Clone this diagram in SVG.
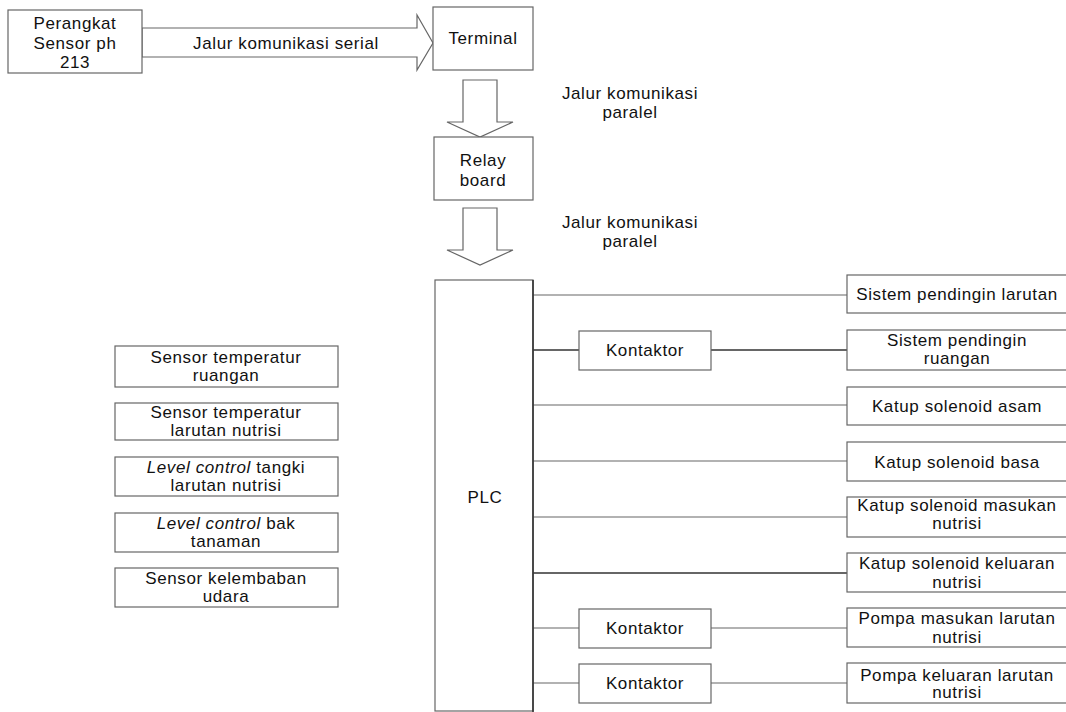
<svg xmlns="http://www.w3.org/2000/svg" width="1066" height="712" viewBox="0 0 1066 712">
<style>
.box{fill:#fff;stroke:#666;stroke-width:1.2}
.arr{fill:#fff;stroke:#666;stroke-width:1.2}
.ln{stroke:#666;stroke-width:1.2;fill:none}
.lnd{stroke:#333;stroke-width:1.6;fill:none}
text{font-family:"Liberation Sans",Arial,sans-serif;font-size:17px;letter-spacing:0.6px;fill:#111;text-anchor:middle}
.it{font-style:italic}
</style>
<rect width="1066" height="712" fill="#fff"/>
<g id="connectors">
<polygon class="arr" points="142,28 417,28 417,15 433,43 417,70 417,57 142,57"/>
<polygon class="arr" points="463,80 497,80 497,122 513,122 480,137 447,122 463,122"/>
<polygon class="arr" points="463,208 497,208 497,250 513,250 480,265 447,250 463,250"/>
<line class="ln" x1="533" y1="295" x2="847" y2="295"/>
<line class="lnd" x1="533" y1="350" x2="579" y2="350"/>
<line class="lnd" x1="711" y1="350" x2="847" y2="350"/>
<line class="ln" x1="533" y1="405" x2="847" y2="405"/>
<line class="ln" x1="533" y1="461" x2="847" y2="461"/>
<line class="ln" x1="533" y1="517" x2="847" y2="517"/>
<line class="lnd" x1="533" y1="573" x2="847" y2="573"/>
<line class="ln" x1="533" y1="628" x2="579" y2="628"/>
<line class="ln" x1="711" y1="628" x2="847" y2="628"/>
<line class="ln" x1="533" y1="683" x2="579" y2="683"/>
<line class="ln" x1="711" y1="683" x2="847" y2="683"/>
<text x="286" y="49">Jalur komunikasi serial</text>
<text x="630" y="99">Jalur komunikasi</text>
<text x="630" y="118">paralel</text>
<text x="630" y="228">Jalur komunikasi</text>
<text x="630" y="247">paralel</text>
</g>
<g id="sensor-ph"><rect class="box" x="8" y="10" width="134" height="63"/><text x="75" y="29">Perangkat</text><text x="75" y="49">Sensor ph</text><text x="75" y="68">213</text></g>
<g id="terminal"><rect class="box" x="433" y="7" width="100" height="63"/><text x="483" y="44">Terminal</text></g>
<g id="relay"><rect class="box" x="434" y="137" width="99" height="63"/><text x="483" y="166">Relay</text><text x="483" y="186">board</text></g>
<g id="plc"><rect class="box" x="435" y="280" width="98" height="431"/><line class="lnd" x1="533" y1="280" x2="533" y2="712"/><text x="485" y="503">PLC</text></g>
<g id="kontaktor1"><rect class="box" x="579" y="331" width="132" height="39"/><text x="645" y="356">Kontaktor</text></g>
<g id="kontaktor2"><rect class="box" x="579" y="609" width="132" height="39"/><text x="645" y="634">Kontaktor</text></g>
<g id="kontaktor3"><rect class="box" x="579" y="664" width="132" height="39"/><text x="645" y="689">Kontaktor</text></g>
<g id="out1"><rect class="box" x="847" y="275" width="222" height="38"/><text x="957" y="300">Sistem pendingin larutan</text></g>
<g id="out2"><rect class="box" x="847" y="330" width="222" height="40"/><text x="957" y="346">Sistem pendingin</text><text x="957" y="364">ruangan</text></g>
<g id="out3"><rect class="box" x="847" y="387" width="222" height="38"/><text x="957" y="412">Katup solenoid asam</text></g>
<g id="out4"><rect class="box" x="847" y="442" width="222" height="39"/><text x="957" y="468">Katup solenoid basa</text></g>
<g id="out5"><rect class="box" x="847" y="497" width="222" height="40"/><text x="957" y="511">Katup solenoid masukan</text><text x="957" y="529">nutrisi</text></g>
<g id="out6"><rect class="box" x="847" y="553" width="222" height="39"/><text x="957" y="569">Katup solenoid keluaran</text><text x="957" y="588">nutrisi</text></g>
<g id="out7"><rect class="box" x="847" y="608" width="222" height="39"/><text x="957" y="624">Pompa masukan larutan</text><text x="957" y="643">nutrisi</text></g>
<g id="out8"><rect class="box" x="847" y="663" width="222" height="40"/><text x="957" y="681">Pompa keluaran larutan</text><text x="957" y="698">nutrisi</text></g>
<g id="in1"><rect class="box" x="115" y="346" width="223" height="41"/><text x="226" y="363">Sensor temperatur</text><text x="226" y="381">ruangan</text></g>
<g id="in2"><rect class="box" x="115" y="403" width="223" height="37"/><text x="226" y="418">Sensor temperatur</text><text x="226" y="436">larutan nutrisi</text></g>
<g id="in3"><rect class="box" x="115" y="457" width="223" height="39"/><text x="226" y="473"><tspan class="it">Level control</tspan> tangki</text><text x="226" y="491">larutan nutrisi</text></g>
<g id="in4"><rect class="box" x="115" y="513" width="223" height="39"/><text x="226" y="529"><tspan class="it">Level control</tspan> bak</text><text x="226" y="547">tanaman</text></g>
<g id="in5"><rect class="box" x="115" y="568" width="223" height="39"/><text x="226" y="584">Sensor kelembaban</text><text x="226" y="602">udara</text></g>
</svg>
